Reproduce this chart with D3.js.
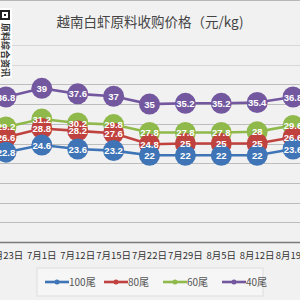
<!DOCTYPE html>
<html>
<head>
<meta charset="utf-8">
<script src="https://cdn.jsdelivr.net/npm/d3@7"></script>
<style>
  html, body { margin: 0; padding: 0; background: #f1f1f1; }
  svg { display: block; font-family: "Noto Sans CJK SC", "Noto Sans", sans-serif; }
</style>
</head>
<body>
<div id="chart"></div>
<script>
// 越南白虾原料收购价格 (元/kg)
var dates = ["6月23日", "7月1日", "7月12日", "7月15日", "7月22日", "7月29日", "8月5日", "8月12日", "8月19日"];
var seriesNames = ["100尾", "80尾", "60尾", "40尾"];
var colors = ["#3f74b6", "#c0423f", "#8fb94b", "#74589f"];
var price100 = [22.8, 24.6, 23.6, 23.2, 22, 22, 22, 22, 23.6];
var price80 = [26.6, 28.8, 28.2, 27.6, 24.8, 25, 25, 25, 26.6];
var price60 = [29.2, 31.2, 30.2, 29.8, 27.8, 27.8, 27.8, 28, 29.6];
var price40 = [36.8, 39, 37.6, 37, 35, 35.2, 35.2, 35.4, 36.8];
var yTicks = [0, 5, 10, 15, 20, 25, 30, 35, 40, 45, 50];

var width = 300, height = 300;
var series = [price100, price80, price60, price40].map(function(vals, i) {
    return { name: seriesNames[i], color: colors[i], values: vals };
});

var svg = d3.select("#chart").append("svg")
    .attr("width", width)
    .attr("height", height);

// background
svg.append("rect").attr("width", width).attr("height", height).attr("fill", "#f1f1f1");
svg.append("line").attr("x1", 0).attr("x2", width).attr("y1", 0.5).attr("y2", 0.5)
    .attr("stroke", "#b8b8b8");

var x = d3.scaleBand().domain(dates).range([-12, 311]);
var y = d3.scaleLinear().domain([0, 50]).range([242, 45]);

// gridlines
svg.append("g").selectAll("line").data(yTicks.slice(1)).join("line")
    .attr("x1", 0).attr("x2", width)
    .attr("y1", function(d) { return Math.round(y(d)) + 0.5; })
    .attr("y2", function(d) { return Math.round(y(d)) + 0.5; })
    .attr("stroke", function(d) { return d >= 45 ? "#d8d8d8" : "#bdbdbd"; })
    .attr("stroke-width", 1);

// x axis
var xAxis = svg.append("g")
    .attr("transform", "translate(0," + y(0) + ")")
    .call(d3.axisBottom(x).tickSize(0).tickPadding(10));
xAxis.select(".domain").attr("stroke", "#7a7a7a").attr("stroke-width", 1.6);
xAxis.selectAll("text").attr("font-size", "9.5px").attr("fill", "#333")
    .attr("font-family", "\"Noto Sans CJK SC\", sans-serif");

// title
svg.append("text")
    .attr("x", 150).attr("y", 27)
    .attr("text-anchor", "middle")
    .attr("font-size", "13.5px")
    .attr("fill", "#444")
    .text("越南白虾原料收购价格（元/kg)");

// qr watermark on the left edge
var qr = svg.append("g");
qr.append("rect").attr("x", 0).attr("y", 8).attr("width", 12).attr("height", 70).attr("fill", "#fff");
qr.append("rect").attr("x", 1).attr("y", 11).attr("width", 8).attr("height", 8)
    .attr("fill", "none").attr("stroke", "#222").attr("stroke-width", 2);
qr.append("rect").attr("x", 4).attr("y", 14).attr("width", 2).attr("height", 2).attr("fill", "#222");
qr.append("text")
    .attr("transform", "translate(2,23) rotate(90)")
    .attr("font-size", "9px").attr("font-weight", "bold").attr("fill", "#333")
    .text("原料综合资讯");

// lines and markers, 40尾 first so 100尾 sits on top
var line = d3.line()
    .x(function(d, i) { return x(dates[i]) + x.bandwidth() / 2; })
    .y(function(d) { return y(d); });

var drawOrder = series.slice().reverse();
drawOrder.forEach(function(s) {
    svg.append("path")
        .datum(s.values)
        .attr("d", line)
        .attr("fill", "none")
        .attr("stroke", s.color)
        .attr("stroke-width", 2.6);
});
drawOrder.forEach(function(s) {
    svg.append("g").selectAll("circle").data(s.values).join("circle")
        .attr("cx", function(d, i) { return x(dates[i]) + x.bandwidth() / 2; })
        .attr("cy", function(d) { return y(d); })
        .attr("r", 10.5)
        .attr("fill", s.color);
});
drawOrder.forEach(function(s) {
    svg.append("g").selectAll("text").data(s.values).join("text")
        .attr("x", function(d, i) { return x(dates[i]) + x.bandwidth() / 2; })
        .attr("y", function(d) { return y(d) + 3.5; })
        .attr("text-anchor", "middle")
        .attr("font-size", "9.5px")
        .attr("font-weight", "bold")
        .attr("font-family", "\"Liberation Sans\", Arial, sans-serif")
        .attr("fill", "#fff")
        .text(function(d) { return d; });
});

// legend
var legend = svg.append("g");
legend.append("rect").attr("x", 37).attr("y", 268).attr("width", 226).attr("height", 28)
    .attr("fill", "#f6f6f6").attr("stroke", "#dedede");
var legendX = [45, 104, 163, 222];
series.forEach(function(s, i) {
    var g = legend.append("g").attr("transform", "translate(" + legendX[i] + ",282)");
    g.append("line").attr("x1", 0).attr("x2", 24).attr("stroke", s.color).attr("stroke-width", 2.6);
    g.append("circle").attr("cx", 12).attr("r", 2.5).attr("fill", s.color);
    g.append("text").attr("x", 24).attr("y", 4)
        .attr("font-size", "10px").attr("fill", "#555")
        .text(s.name);
});
</script>
</body>
</html>
